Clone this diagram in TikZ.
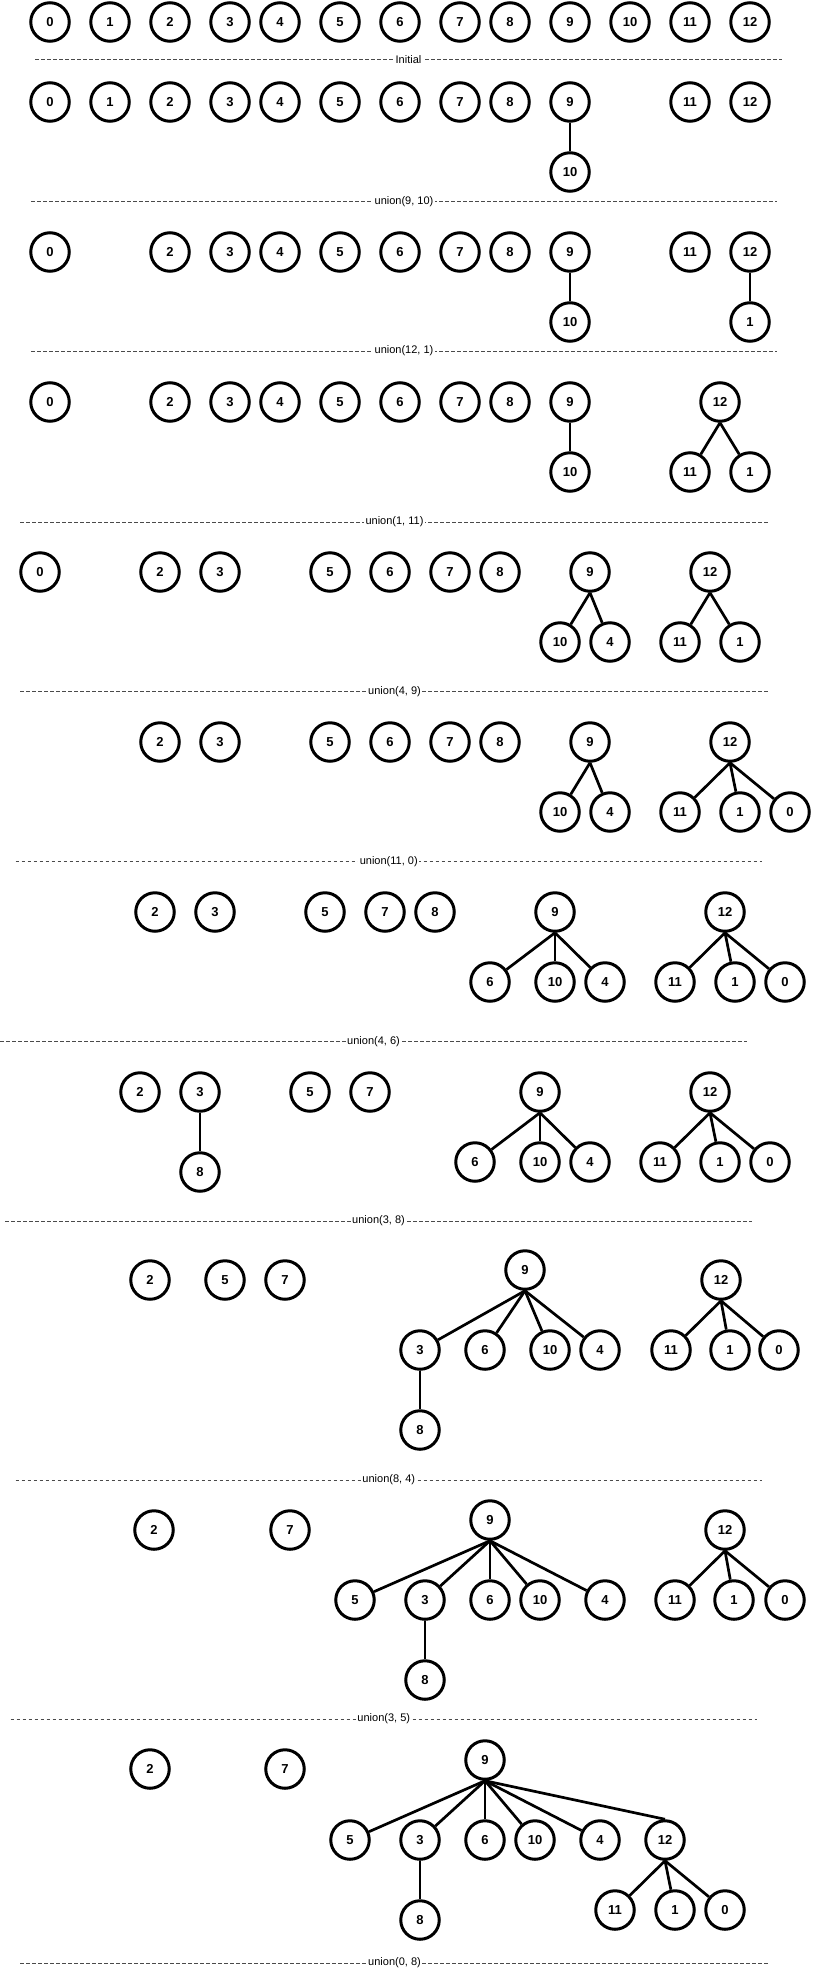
\documentclass[tikz,border=0pt]{standalone}
\usepackage{fontspec}
\setmainfont{Liberation Sans}
\usepackage{tikz}
\definecolor{sepgray}{HTML}{4A4A4A}
\begin{document}
\begin{tikzpicture}[x=1pt,y=-1pt]
  \useasboundingbox (0,0) rectangle (812,1975);
  \tikzstyle{link}=[line width=2.7pt]

    \tikzstyle{every node}=[draw,circle,minimum size=38.5pt,inner sep=0pt,line width=3pt,font=\fontsize{13}{13}\selectfont\bfseries]
    % initial
    \node(a0) at (50,22){0};
    \node(a1) at (110,22){1};
    \node(a2) at (170,22){2};
    \node(a3) at (230,22){3};
    \node(a4) at (280,22){4};
    \node(a5) at (340,22){5};
    \node(a6) at (400,22){6};
    \node(a7) at (460,22){7};
    \node(a8) at (510,22){8};
    \node(a9) at (570,22){9};
    \node(a10) at (630,22){10};
    \node(a11) at (690,22){11};
    \node(a12) at (750,22){12};

    % union(9, 10)
    \node(b0) at (50,102){0};
    \node(b1) at (110,102){1};
    \node(b2) at (170,102){2};
    \node(b3) at (230,102){3};
    \node(b4) at (280,102){4};
    \node(b5) at (340,102){5};
    \node(b6) at (400,102){6};
    \node(b7) at (460,102){7};
    \node(b8) at (510,102){8};
    \node(b9) at (570,102){9};
    \node(b10) at (570,172){10};
    \node(b11) at (690,102){11};
    \node(b12) at (750,102){12};
    \draw[link](b9.south)--(b10);

    % union(12, 1)
    \node(c0) at (50,252){0};
    \node(c2) at (170,252){2};
    \node(c3) at (230,252){3};
    \node(c4) at (280,252){4};
    \node(c5) at (340,252){5};
    \node(c6) at (400,252){6};
    \node(c7) at (460,252){7};
    \node(c8) at (510,252){8};
    \node(c9) at (570,252){9};
    \node(c10) at (570,322){10};
    \node(c11) at (690,252){11};
    \node(c12) at (750,252){12};
    \node(c1) at (750,322){1};
    \draw[link](c9.south)--(c10);
    \draw[link](c12.south)--(c1);

    % union(1, 11)
    \node(d0) at (50,402){0};
    \node(d2) at (170,402){2};
    \node(d3) at (230,402){3};
    \node(d4) at (280,402){4};
    \node(d5) at (340,402){5};
    \node(d6) at (400,402){6};
    \node(d7) at (460,402){7};
    \node(d8) at (510,402){8};
    \node(d9) at (570,402){9};
    \node(d10) at (570,472){10};
    \node(d12) at (720,402){12};
    \node(d11) at (690,472){11};
    \node(d1) at (750,472){1};
    \draw[link](d9.south)--(d10);
    \draw[link](d12.south)--(d11);
    \draw[link](d12.south)--(d1);

    % union(4, 9)
    \node(e0) at (40,572){0};
    \node(e2) at (160,572){2};
    \node(e3) at (220,572){3};
    \node(e5) at (330,572){5};
    \node(e6) at (390,572){6};
    \node(e7) at (450,572){7};
    \node(e8) at (500,572){8};
    \node(e9) at (590,572){9};
    \node(e10) at (560,642){10};
    \node(e4) at (610,642){4};
    \node(e12) at (710,572){12};
    \node(e11) at (680,642){11};
    \node(e1) at (740,642){1};
    \draw[link](e9.south)--(e10);
    \draw[link](e9.south)--(e4);
    \draw[link](e12.south)--(e11);
    \draw[link](e12.south)--(e1);

    % union(11, 0)
    \node(f2) at (160,742){2};
    \node(f3) at (220,742){3};
    \node(f5) at (330,742){5};
    \node(f6) at (390,742){6};
    \node(f7) at (450,742){7};
    \node(f8) at (500,742){8};
    \node(f9) at (590,742){9};
    \node(f10) at (560,812){10};
    \node(f4) at (610,812){4};
    \node(f12) at (730,742){12};
    \node(f11) at (680,812){11};
    \node(f1) at (740,812){1};
    \node(f0) at (790,812){0};
    \draw[link](f9.south)--(f10);
    \draw[link](f9.south)--(f4);
    \draw[link](f12.south)--(f11);
    \draw[link](f12.south)--(f1);
    \draw[link](f12.south)--(f0);

    % union(4, 6)
    \node(g2) at (155,912){2};
    \node(g3) at (215,912){3};
    \node(g5) at (325,912){5};
    \node(g7) at (385,912){7};
    \node(g8) at (435,912){8};
    \node(g9) at (555,912){9};
    \node(g6) at (490,982){6};
    \node(g10) at (555,982){10};
    \node(g4) at (605,982){4};
    \node(g12) at (725,912){12};
    \node(g11) at (675,982){11};
    \node(g1) at (735,982){1};
    \node(g0) at (785,982){0};
    \draw[link](g9.south)--(g6);
    \draw[link](g9.south)--(g10);
    \draw[link](g9.south)--(g4);
    \draw[link](g12.south)--(g11);
    \draw[link](g12.south)--(g1);
    \draw[link](g12.south)--(g0);

    % union(3, 8)
    \node(h2) at (140,1092){2};
    \node(h3) at (200,1092){3};
    \node(h8) at (200,1172){8};
    \node(h5) at (310,1092){5};
    \node(h7) at (370,1092){7};
    \node(h9) at (540,1092){9};
    \node(h6) at (475,1162){6};
    \node(h10) at (540,1162){10};
    \node(h4) at (590,1162){4};
    \node(h12) at (710,1092){12};
    \node(h11) at (660,1162){11};
    \node(h1) at (720,1162){1};
    \node(h0) at (770,1162){0};
    \draw[link](h3.south)--(h8);
    \draw[link](h9.south)--(h6);
    \draw[link](h9.south)--(h10);
    \draw[link](h9.south)--(h4);
    \draw[link](h12.south)--(h11);
    \draw[link](h12.south)--(h1);
    \draw[link](h12.south)--(h0);

    % union(8, 4)
    \node(i2) at (150,1280){2};
    \node(i5) at (225,1280){5};
    \node(i7) at (285,1280){7};
    \node(i9) at (525,1270){9};
    \node(i3) at (420,1350){3};
    \node(i8) at (420,1430){8};
    \node(i6) at (485,1350){6};
    \node(i10) at (550,1350){10};
    \node(i4) at (600,1350){4};
    \node(i12) at (721,1280){12};
    \node(i11) at (671,1350){11};
    \node(i1) at (730,1350){1};
    \node(i0) at (779,1350){0};
    \draw[link](i9.south)--(i3);
    \draw[link](i9.south)--(i6);
    \draw[link](i9.south)--(i10);
    \draw[link](i9.south)--(i4);
    \draw[link](i3.south)--(i8);
    \draw[link](i12.south)--(i11);
    \draw[link](i12.south)--(i1);
    \draw[link](i12.south)--(i0);

    % union(3, 5)
    \node(j2) at (154,1530){2};
    \node(j7) at (290,1530){7};
    \node(j9) at (490,1520){9};
    \node(j5) at (355,1600){5};
    \node(j3) at (425,1600){3};
    \node(j8) at (425,1680){8};
    \node(j6) at (490,1600){6};
    \node(j10) at (540,1600){10};
    \node(j4) at (605,1600){4};
    \node(j12) at (725,1530){12};
    \node(j11) at (675,1600){11};
    \node(j1) at (734,1600){1};
    \node(j0) at (785,1600){0};
    \draw[link](j9.south)--(j5);
    \draw[link](j9.south)--(j3);
    \draw[link](j9.south)--(j6);
    \draw[link](j9.south)--(j10);
    \draw[link](j9.south)--(j4);
    \draw[link](j3.south)--(j8);
    \draw[link](j12.south)--(j11);
    \draw[link](j12.south)--(j1);
    \draw[link](j12.south)--(j0);

    % union(0, 8)
    \node(k2) at (150,1769){2};
    \node(k7) at (285,1769){7};
    \node(k9) at (485,1760){9};
    \node(k5) at (350,1840){5};
    \node(k3) at (420,1840){3};
    \node(k8) at (420,1920){8};
    \node(k6) at (485,1840){6};
    \node(k10) at (535,1840){10};
    \node(k4) at (600,1840){4};
    \node(k12) at (665,1840){12};
    \node(k11) at (615,1910){11};
    \node(k1) at (675,1910){1};
    \node(k0) at (725,1910){0};
    \draw[link](k9.south)--(k5);
    \draw[link](k9.south)--(k3);
    \draw[link](k9.south)--(k6);
    \draw[link](k9.south)--(k10);
    \draw[link](k9.south)--(k4);
    \draw[link](k9.south)--(k12.north);
    \draw[link](k3.south)--(k8);
    \draw[link](k12.south)--(k11);
    \draw[link](k12.south)--(k1);
    \draw[link](k12.south)--(k0);

  \tikzstyle{every node}=[]
  \tikzstyle{sepline}=[draw=sepgray,line width=1pt,dash pattern=on 3.5pt off 2.5pt]
  \tikzstyle{septext}=[fill=white,inner sep=1.5pt,text=black,font=\fontsize{11}{11}\selectfont]

     % separators
     \coordinate (s0l) at (35,60);     \coordinate (s0r) at (782,60);
     \coordinate (s1l) at (31,201.5);  \coordinate (s1r) at (777,201.5);
     \coordinate (s2l) at (31,351);    \coordinate (s2r) at (777,351);
     \coordinate (s3l) at (20,522);    \coordinate (s3r) at (769,522);
     \coordinate (s4l) at (20,691.5);  \coordinate (s4r) at (769,691.5);
     \coordinate (s5l) at (15.5,861.5);\coordinate (s5r) at (762,861.5);
     \coordinate (s6l) at (0,1041.5);  \coordinate (s6r) at (747,1041.5);
     \coordinate (s7l) at (5,1221);    \coordinate (s7r) at (752,1221);
     \coordinate (s8l) at (15.5,1480); \coordinate (s8r) at (762,1480);
     \coordinate (s9l) at (10.5,1719); \coordinate (s9r) at (757,1719);
     \coordinate (s10l) at (20,1963);  \coordinate (s10r) at (769,1963);

     \draw[sepline] (s0l) -- node[septext](t0){Initial} (s0r);
     \draw[sepline] (s1l) -- node[septext](t1){union(9, 10)} (s1r);
     \draw[sepline] (s2l) -- node[septext](t2){union(12, 1)} (s2r);
     \draw[sepline] (s3l) -- node[septext](t3){union(1, 11)} (s3r);
     \draw[sepline] (s4l) -- node[septext](t4){union(4, 9)} (s4r);
     \draw[sepline] (s5l) -- node[septext](t5){union(11, 0)} (s5r);
     \draw[sepline] (s6l) -- node[septext](t6){union(4, 6)} (s6r);
     \draw[sepline] (s7l) -- node[septext](t7){union(3, 8)} (s7r);
     \draw[sepline] (s8l) -- node[septext](t8){union(8, 4)} (s8r);
     \draw[sepline] (s9l) -- node[septext](t9){union(3, 5)} (s9r);
     \draw[sepline] (s10l) -- node[septext](t10){union(0, 8)} (s10r);

  \end{tikzpicture}
\end{document}
